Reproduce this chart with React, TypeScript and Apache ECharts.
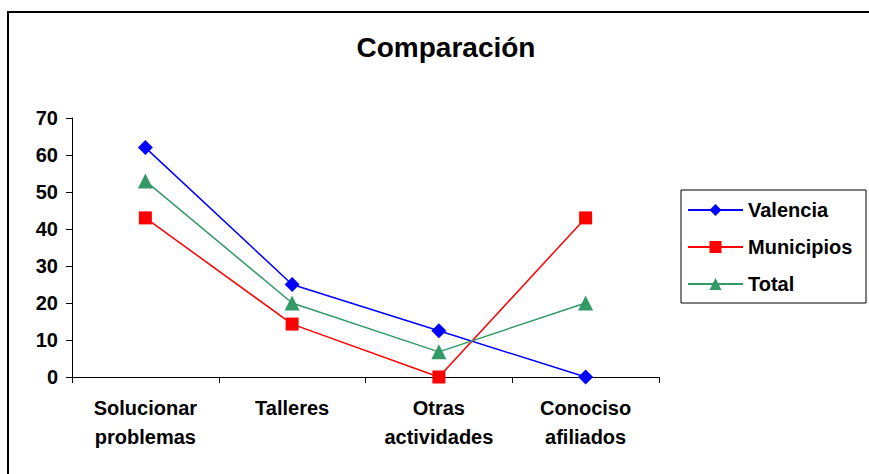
import React, { useEffect, useRef } from "react";
import * as echarts from "echarts";

const categories = ["Solucionar\nproblemas", "Talleres", "Otras\nactividades", "Conociso\nafiliados"];
const valencia = [62, 25, 12.5, 0];
const municipios = [43, 14.3, 0, 43];
const total = [53, 20, 6.8, 20];
const yTicks = { min: 0, max: 70, interval: 10 };

export default function App() {
  const ref = useRef<HTMLDivElement>(null);
  useEffect(() => {
    const chart = echarts.init(ref.current!, undefined, { renderer: "svg" });
    const font = "Liberation Sans, Arial, sans-serif";
    const mk = (name: string, data: number[], color: string, symbol: string, size: number) => ({
      name,
      type: "line",
      data,
      symbol,
      symbolSize: size,
      lineStyle: { color, width: 1.5 },
      itemStyle: { color },
    });
    chart.setOption({
      animation: false,
      backgroundColor: "#fff",
      title: {
        text: "Comparación",
        left: 441,
        textAlign: "center",
        top: 28,
        textStyle: { fontFamily: font, fontWeight: "bold", fontSize: 28, color: "#000" },
      },
      graphic: [
        { type: "rect", shape: { x: 8, y: 12, width: 900, height: 500 }, style: { fill: "none", stroke: "#000", lineWidth: 2 }, silent: true, z: -1 },
        { type: "rect", shape: { x: 681, y: 190, width: 185, height: 113 }, style: { fill: "#fff", stroke: "#000", lineWidth: 1 }, silent: true, z: 0 },
      ],
      legend: {
        orient: "vertical",
        left: 687,
        top: 200,
        padding: 0,
        itemWidth: 55,
        itemHeight: 15,
        itemGap: 17,
        z: 5,
        textStyle: { fontFamily: font, fontWeight: "bold", fontSize: 20, color: "#000" },
        data: ["Valencia", "Municipios", "Total"],
      },
      grid: { left: 72, right: 210, top: 118, bottom: 97, containLabel: false },
      xAxis: {
        type: "category",
        data: categories,
        boundaryGap: true,
        axisLine: { show: true, lineStyle: { color: "#000", width: 1 } },
        axisTick: { show: true, inside: false, length: 6, lineStyle: { color: "#000" } },
        axisLabel: { fontFamily: font, fontWeight: "bold", fontSize: 20, color: "#000", margin: 16, lineHeight: 29, interval: 0 },
      },
      yAxis: {
        type: "value",
        min: yTicks.min,
        max: yTicks.max,
        interval: yTicks.interval,
        splitLine: { show: false },
        axisLine: { show: true, lineStyle: { color: "#000", width: 1 } },
        axisTick: { show: true, inside: false, length: 6, lineStyle: { color: "#000" } },
        axisLabel: { fontFamily: font, fontWeight: "bold", fontSize: 20, color: "#000", margin: 14 },
      },
      series: [
        mk("Valencia", valencia, "#0000FF", "diamond", 15),
        mk("Municipios", municipios, "#FF0000", "rect", 13),
        mk("Total", total, "#339966", "triangle", 15),
      ],
    });
    return () => chart.dispose();
  }, []);
  return <div ref={ref} style={{ width: 869, height: 474, position: "absolute", left: 0, top: 0 }} />;
}
